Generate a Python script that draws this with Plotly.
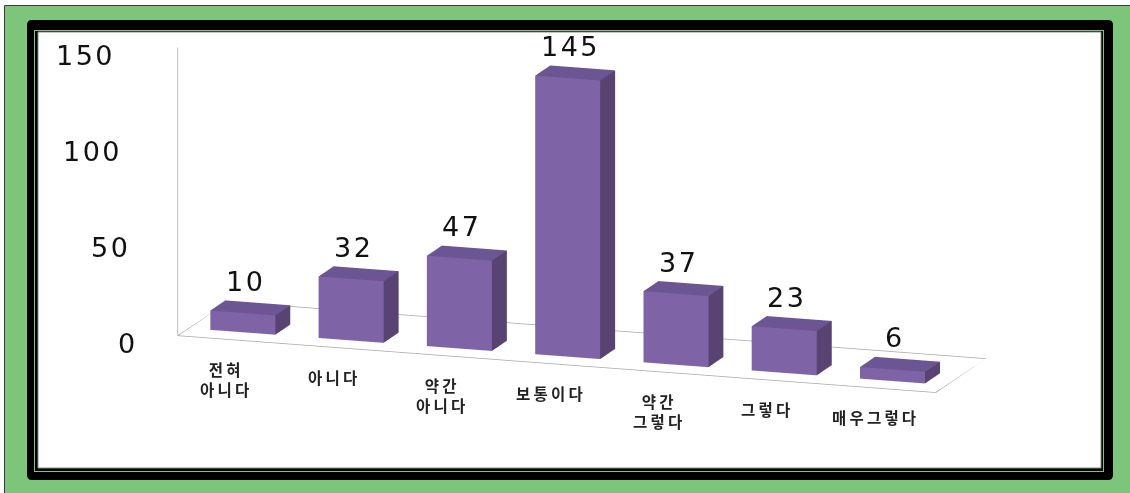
import numpy as np
import plotly.graph_objects as go

# ---- data -------------------------------------------------------------
categories = ["전혀<br>아니다", "아니다", "약간<br>아니다", "보통이다",
              "약간<br>그렇다", "그렇다", "매우그렇다"]
counts = [10, 32, 47, 145, 37, 23, 6]
tick_values = [0, 50, 100, 150]

# ---- geometry / style -------------------------------------------------
W, H = 1130, 493
n = len(counts)
x_lo, x_hi = -0.5, n - 0.5
z_max = tick_values[-1]
bar_half = 0.3
depth_front, depth_back = 0.22, 0.52

FRONT = "#7e64a6"
SIDE = "#584373"
TOP = "#6c5593"
GRID = "#a8a8a8"
GREEN = "#7cc57a"

# ---- bars as closed boxes ---------------------------------------------
vx, vy, vz, ti, tj, tk, fcol = [], [], [], [], [], [], []
for idx, v in enumerate(counts):
    x0, x1 = idx - bar_half, idx + bar_half
    y0, y1 = depth_front, depth_back
    base = len(vx)
    vx += [x0, x1, x1, x0, x0, x1, x1, x0]
    vy += [y0, y0, y1, y1, y0, y0, y1, y1]
    vz += [0, 0, 0, 0, v, v, v, v]
    faces = [
        ((0, 1, 5), (0, 5, 4), FRONT),   # front
        ((1, 2, 6), (1, 6, 5), SIDE),    # right
        ((4, 5, 6), (4, 6, 7), TOP),     # top
        ((0, 3, 7), (0, 7, 4), SIDE),    # left
        ((3, 2, 6), (3, 6, 7), SIDE),    # back
        ((0, 1, 2), (0, 2, 3), SIDE),    # bottom
    ]
    for t1, t2, c in faces:
        for t in (t1, t2):
            ti.append(base + t[0]); tj.append(base + t[1]); tk.append(base + t[2])
            fcol.append(c)

bars = go.Mesh3d(
    x=vx, y=vy, z=vz, i=ti, j=tj, k=tk, facecolor=fcol,
    flatshading=True,
    lighting=dict(ambient=1.0, diffuse=0.0, specular=0.0, roughness=1.0, fresnel=0.0),
    hoverinfo="skip", showscale=False,
)

floor = go.Scatter3d(
    x=[x_lo, x_hi, x_hi, x_lo, x_lo], y=[0, 0, 1, 1, 0], z=[0, 0, 0, 0, 0],
    mode="lines", line=dict(color=GRID, width=1.5), hoverinfo="skip", showlegend=False,
)
value_axis = go.Scatter3d(
    x=[x_lo, x_lo], y=[0, 0], z=[0, z_max],
    mode="lines", line=dict(color=GRID, width=1.5), hoverinfo="skip", showlegend=False,
)

# ---- 3D-anchored labels -----------------------------------------------
NUM_FONT = dict(family="DejaVu Sans", size=27, color="#111111")
CAT_FONT = dict(family="Noto Sans CJK KR", size=15.5, color="#222222")


def spaced(txt, ls):
    return f'<span style="letter-spacing:{ls}px">{txt}</span>'


scene_ann = []
for t in tick_values:
    # labels drift outward with height, following the leaning value axis
    scene_ann.append(dict(
        x=x_lo, y=0, z=t, text=spaced(str(t), 2.5), showarrow=False,
        xanchor="right", yanchor="middle",
        xshift=-38 - 23 * t / z_max, yshift=-8, font=NUM_FONT,
    ))
for idx, v in enumerate(counts):
    scene_ann.append(dict(
        x=idx, y=(depth_front + depth_back) / 2, z=v, text=spaced(str(v), 2.5),
        showarrow=False, xanchor="center", yanchor="bottom", xshift=-5, yshift=9,
        font=NUM_FONT,
    ))
for idx, c in enumerate(categories):
    scene_ann.append(dict(
        x=idx, y=0, z=0, text="<b>" + spaced(c, 3.2) + "</b>", showarrow=False,
        xanchor="center", yanchor="top", xshift=-6, yshift=-16, font=CAT_FONT,
    ))

# ---- camera (orthographic, seen from front-right, slightly above) ------
# orthographic zoom is governed by the aspect ratio, so scale both together
zoom = 1.2
view = np.array([0.307, -0.9246, 0.226])
view /= np.linalg.norm(view)
look = zoom * np.array([-0.075, -0.06, -0.15]) + np.array([0.038, 0.014, 0.008])
eye = look + 2.0 * view

axis_off = dict(visible=False, showspikes=False)
scene = dict(
    domain=dict(x=[0, 1], y=[0, 1]),
    xaxis=dict(range=[x_lo, x_hi], **axis_off),
    yaxis=dict(range=[0, 1], **axis_off),
    zaxis=dict(range=[0, z_max], **axis_off),
    aspectmode="manual",
    aspectratio=dict(x=2.70 * zoom, y=0.535 * zoom, z=1.0 * zoom),
    camera=dict(
        eye=dict(x=eye[0], y=eye[1], z=eye[2]),
        center=dict(x=look[0], y=look[1], z=look[2]),
        up=dict(x=0, y=0, z=1),
        projection=dict(type="orthographic"),
    ),
    bgcolor="rgba(0,0,0,0)",
    annotations=scene_ann,
    dragmode=False,
)


# ---- frame --------------------------------------------------------------
def px(x):
    return x / W


def py(y):
    return 1 - y / H


def rect(x0, y0, x1, y1, fill, line=None):
    return dict(type="rect", xref="paper", yref="paper",
                x0=px(x0), x1=px(x1), y0=py(y1), y1=py(y0),
                fillcolor=fill, line=line or dict(width=0), layer="below")


def rounded(x0, y0, x1, y1, r, fill):
    path = (f"M {px(x0 + r)},{py(y0)} L {px(x1 - r)},{py(y0)} "
            f"Q {px(x1)},{py(y0)} {px(x1)},{py(y0 + r)} "
            f"L {px(x1)},{py(y1 - r)} Q {px(x1)},{py(y1)} {px(x1 - r)},{py(y1)} "
            f"L {px(x0 + r)},{py(y1)} Q {px(x0)},{py(y1)} {px(x0)},{py(y1 - r)} "
            f"L {px(x0)},{py(y0 + r)} Q {px(x0)},{py(y0)} {px(x0 + r)},{py(y0)} Z")
    return dict(type="path", xref="paper", yref="paper", path=path,
                fillcolor=fill, line=dict(width=0), layer="below")


shapes = [
    rect(4.5, 5.5, W + 5, H + 5, GREEN, dict(color="#3a3a3a", width=1)),
    rounded(27, 20, 1113, 480, 5, "#000000"),
    rect(34, 30, 1104, 472, GREEN),
    rect(35, 31, 1103, 471, "#000000"),
    rect(38, 32, 1101, 468, "#ffffff", dict(color="#8a8a8a", width=1)),
]

fig = go.Figure(data=[floor, value_axis, bars])
fig.update_layout(
    width=W, height=H, autosize=False,
    margin=dict(l=0, r=0, t=0, b=0),
    paper_bgcolor="#ffffff",
    showlegend=False,
    hovermode=False,
    scene=scene,
    shapes=shapes,
)
fig.write_html("out.html")
